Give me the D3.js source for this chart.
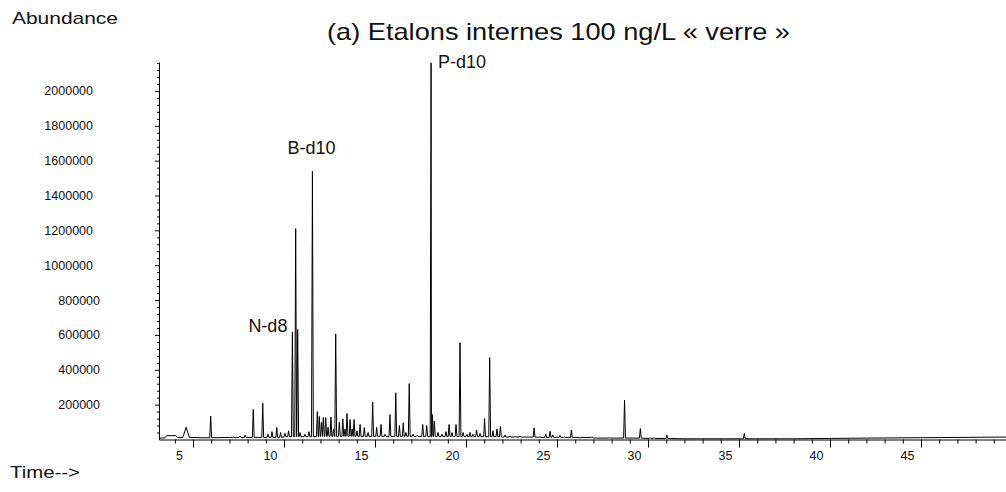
<!DOCTYPE html>
<html>
<head>
<meta charset="utf-8">
<script src="https://cdn.jsdelivr.net/npm/d3@7"></script>
<style>
  body { margin: 0; background: #fff; }
  svg text { font-family: "Liberation Sans", Arial, sans-serif; fill: #111; }
</style>
</head>
<body>
<script>
// retention times (min) and abundances of the peaks
var peakTime = [4.62, 5.97, 7.20, 7.58, 7.86, 8.31, 8.83, 9.12, 9.34, 9.60, 9.81, 10.05, 10.25,
  10.46, 10.64, 10.75, 10.88, 11.15, 11.37, 11.56, 11.83, 11.94, 12.06, 12.16, 12.29, 12.42,
  12.58, 12.72, 12.84, 13.04, 13.23, 13.35, 13.46, 13.63, 13.74, 13.85, 14.01, 14.18, 14.41,
  14.62, 14.87, 15.09, 15.33, 15.55, 15.82, 16.14, 16.34, 16.55, 16.70, 16.88, 17.09, 17.31,
  17.62, 17.84, 18.08, 18.15, 18.26, 18.46, 18.68, 18.90, 19.07, 19.23, 19.45, 19.67, 19.84,
  20.05, 20.22, 20.38, 20.58, 20.77, 21.02, 21.30, 21.48, 21.70, 21.89, 22.14, 22.42, 22.69,
  22.97, 23.24, 23.74, 24.07, 24.38, 24.62, 24.77, 25.00, 25.16, 25.41, 25.79, 26.26, 26.92,
  27.14, 27.86, 28.71, 29.58, 30.11, 30.33, 31.04, 35.29, 37.64];
var peakHeight = [70000, 134000, 15000, 20000, 25000, 172000, 208000, 30000, 45000, 69000, 40000, 35000, 50000,
  618000, 1210000, 631000, 40000, 30000, 45000, 1539000, 160000, 132000, 100000, 126000, 126000, 70000,
  128000, 60000, 606000, 99000, 119000, 60000, 149000, 115000, 60000, 115000, 50000, 86000, 69000,
  40000, 214000, 69000, 86000, 30000, 143000, 268000, 80000, 96000, 40000, 321000, 30000, 25000,
  86000, 80000, 2161000, 143000, 105000, 40000, 30000, 45000, 86000, 40000, 86000, 555000, 40000,
  30000, 41000, 30000, 55000, 35000, 120000, 470000, 50000, 61000, 75000, 25000, 20000, 18000,
  20000, 15000, 67000, 15000, 30000, 47000, 26000, 15000, 24000, 14000, 55000, 8000, 14000,
  10000, 10000, 226000, 63000, 12000, 12000, 24000, 35000, 5000];
// peak half widths (min); the early peak is broad, the rest are narrow
var peakHalfWidth = peakTime.map(function(t) { return t < 5 ? 0.18 : 0.05; });

// baseline level between peaks
var baseTime  = [3.13, 3.45, 3.55, 4.05, 4.15, 5.5, 7.0, 10.0, 12.0, 15.0, 18.0, 20.0, 22.0, 24.0, 27.0, 30.0, 32.0, 35.0, 38.0, 42.0, 46.0, 49.7];
var baseValue = [8000, 9000, 22000, 22000, 12000, 10000, 12000, 16000, 18000, 18000, 17000, 16000, 14000, 12000, 8000, 6000, 4000, 4000, 4000, 8000, 11000, 14000];

var yTicks = [200000, 400000, 600000, 800000, 1000000, 1200000, 1400000, 1600000, 1800000, 2000000];
var xTicks = [5, 10, 15, 20, 25, 30, 35, 40, 45];

var labels = [
  {name: "N-d8", t: 10.46, v: 618000, dx: -5, dy: -6, anchor: "end"},
  {name: "B-d10", t: 11.56, v: 1539000, dx: -1, dy: -24, anchor: "middle"},
  {name: "P-d10", t: 18.08, v: 2161000, dx: 7, dy: -1, anchor: "start"}
];

var W = 1006, H = 492;
var x = d3.scaleLinear().domain([3.13, 49.67]).range([159, 1006]);
var y = d3.scaleLinear().domain([0, 2166000]).range([439.5, 62]);

var svg = d3.select("body").append("svg")
    .attr("width", W)
    .attr("height", H);

// build the trace: baseline points + triangle for each peak
function baseAt(t) {
  var v = baseValue[0];
  for (var i = 0; i < baseTime.length; i++) {
    if (baseTime[i] <= t) v = baseValue[i];
  }
  return v;
}
var pts = [];
baseTime.forEach(function(t, i) {
  var inside = peakTime.some(function(p, j) { return Math.abs(p - t) < peakHalfWidth[j]; });
  if (!inside) pts.push([t, baseValue[i]]);
});
peakTime.forEach(function(t, i) {
  var w = peakHalfWidth[i];
  pts.push([t - w, baseAt(t - w)]);
  pts.push([t, peakHeight[i]]);
  pts.push([t + w, baseAt(t + w)]);
});
pts.sort(function(a, b) { return a[0] - b[0]; });

var line = d3.line()
    .x(function(d) { return x(d[0]); })
    .y(function(d) { return y(d[1]); });

// axes
var xMinor = d3.range(4, 50, 1).filter(function(v) { return v % 5 != 0; });
svg.append("g")
    .attr("transform", "translate(0," + y(0) + ")")
    .call(d3.axisBottom(x).tickValues(xMinor).tickSize(4).tickFormat(""))
    .call(function(g) { g.select(".domain").remove(); });
var xAxis = svg.append("g")
    .attr("transform", "translate(0," + y(0) + ")")
    .call(d3.axisBottom(x).tickValues(xTicks).tickSize(8).tickSizeOuter(0));
xAxis.selectAll("text")
    .attr("font-size", 12.5)
    .attr("dx", -14)
    .attr("y", 16)
    .attr("dy", "0.32em");

var yMinor = d3.range(40000, 2166000, 40000).filter(function(v) { return v % 200000 != 0; });
svg.append("g")
    .attr("transform", "translate(159,0)")
    .call(d3.axisLeft(y).tickValues(yMinor).tickSize(2).tickFormat(""))
    .call(function(g) { g.select(".domain").remove(); });
var yAxis = svg.append("g")
    .attr("transform", "translate(159,0)")
    .call(d3.axisLeft(y).tickValues(yTicks).tickSize(4).tickSizeOuter(0).tickFormat(d3.format("d")));
yAxis.selectAll("text")
    .attr("font-size", 12.5)
    .attr("x", function(d) { return String(d).length > 6 ? -66 : -59; });

svg.selectAll(".domain, .tick line").attr("stroke", "#000");

svg.append("path")
    .datum(pts)
    .attr("fill", "none")
    .attr("stroke", "#000")
    .attr("stroke-width", 1)
    .attr("d", line);

// peak labels
svg.selectAll(".plabel")
    .data(labels)
    .enter()
    .append("text")
    .attr("class", "plabel")
    .attr("x", function(d) { return x(d.t) + d.dx; })
    .attr("y", function(d) { return y(d.v) + d.dy; })
    .attr("dy", "0.35em")
    .attr("text-anchor", function(d) { return d.anchor; })
    .attr("font-size", 18)
    .text(function(d) { return d.name; });

// the original figure is a bit stretched sideways
svg.append("text")
    .attr("x", 327).attr("y", 40)
    .attr("font-size", 24)
    .attr("textLength", 463)
    .attr("lengthAdjust", "spacingAndGlyphs")
    .text("(a) Etalons internes 100 ng/L « verre »");

svg.append("text")
    .attr("x", 12).attr("y", 24)
    .attr("font-size", 17)
    .attr("textLength", 106)
    .attr("lengthAdjust", "spacingAndGlyphs")
    .text("Abundance");

svg.append("text")
    .attr("x", 10).attr("y", 478)
    .attr("font-size", 17)
    .attr("textLength", 70)
    .attr("lengthAdjust", "spacingAndGlyphs")
    .text("Time-->");
</script>
</body>
</html>
